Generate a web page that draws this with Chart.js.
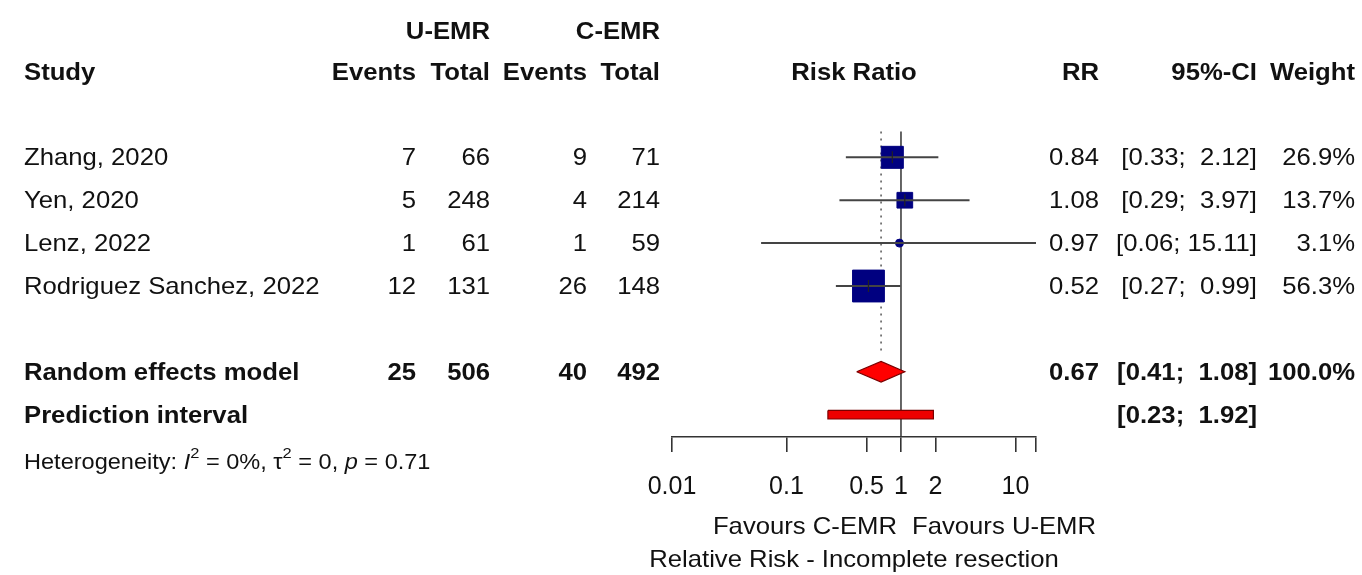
<!DOCTYPE html>
<html>
<head>
<meta charset="utf-8">
<script src="https://cdn.jsdelivr.net/npm/chart.js@4.4.1/dist/chart.umd.min.js"></script>
<style>
  html, body { margin: 0; padding: 0; background: #fff; }
  canvas { display: block; }
</style>
</head>
<body>
<canvas id="forest" width="1362" height="575"></canvas>
<script>
// --- data ---
const studies = ['Zhang, 2020', 'Yen, 2020', 'Lenz, 2022', 'Rodriguez Sanchez, 2022'];
const eventsU = [7, 5, 1, 12];
const totalU = [66, 248, 61, 131];
const eventsC = [9, 4, 1, 26];
const totalC = [71, 214, 59, 148];
const rr = [0.84, 1.08, 0.97, 0.52];
const ciLow = [0.33, 0.29, 0.06, 0.27];
const ciHigh = [2.12, 3.97, 15.11, 0.99];
const weight = [26.9, 13.7, 3.1, 56.3];

const pooledTotals = [25, 506, 40, 492];
const pooled = [0.67, 0.41, 1.08];      // RR, lower, upper
const predInterval = [0.23, 1.92];

const xTicks = [0.01, 0.1, 0.5, 1, 2, 10, 15.11];
const xTickLabels = ['0.01', '0.1', '0.5', '1', '2', '10', ''];

// rows on the y scale (1 row = one study line)
const studyRows = studies.map((s, i) => i + 1);
const pooledRow = 6, predRow = 7, hetRow = 8.08;

const FONT = "'Liberation Sans', Arial, sans-serif";
const INK = '#111';

function fmtCI(lo, hi) {
  return '[' + lo.toFixed(2) + ';' + (hi < 10 ? '  ' : ' ') + hi.toFixed(2) + ']';
}

// CI whiskers, one dataset per study
const ciSets = studies.map((s, i) => ({
  data: [{ x: ciLow[i], y: studyRows[i] }, { x: ciHigh[i], y: studyRows[i] }],
  borderColor: '#444', borderWidth: 2, pointRadius: 0, order: 1
}));

const datasets = [
  ...ciSets,
  { // study squares, area ~ weight
    data: rr.map((v, i) => ({ x: v, y: studyRows[i] })),
    showLine: false,
    pointStyle: weight.map(w => (w < 5 ? 'circle' : 'rect')),
    pointRadius: weight.map(w => (w < 5 ? 4 : 3 * Math.sqrt(w))),
    backgroundColor: '#000080', borderColor: '#000080', borderWidth: 1, order: 2
  },
  { // small tick at the point estimate
    data: rr.map((v, i) => ({ x: v, y: studyRows[i] })),
    showLine: false, pointStyle: 'line', rotation: 90,
    pointRadius: weight.map(w => (w > 10 ? 6 : 0)),
    borderColor: '#222', borderWidth: 1.2, order: 0
  },
  { // line of no effect
    data: [{ x: 1, y: 0.4 }, { x: 1, y: 7.6 }],
    borderColor: '#333', borderWidth: 1.5, pointRadius: 0, order: 3
  },
  { // pooled estimate, dotted
    data: [{ x: pooled[0], y: 0.4 }, { x: pooled[0], y: 5.55 }],
    borderColor: '#555', borderWidth: 1.5, borderDash: [2, 5], pointRadius: 0, order: 3
  },
  { // diamond
    data: [
      { x: pooled[1], y: pooledRow }, { x: pooled[0], y: pooledRow - 0.24 },
      { x: pooled[2], y: pooledRow }, { x: pooled[0], y: pooledRow + 0.24 },
      { x: pooled[1], y: pooledRow }
    ],
    borderColor: '#7a0000', borderWidth: 1.2, backgroundColor: '#ff0000',
    fill: 'shape', pointRadius: 0, tension: 0, order: 0
  },
  { // prediction interval bar
    data: [
      { x: predInterval[0], y: predRow - 0.1 }, { x: predInterval[1], y: predRow - 0.1 },
      { x: predInterval[1], y: predRow + 0.1 }, { x: predInterval[0], y: predRow + 0.1 },
      { x: predInterval[0], y: predRow - 0.1 }
    ],
    borderColor: '#7a0000', borderWidth: 1.2, backgroundColor: '#ee0000',
    fill: 'shape', pointRadius: 0, tension: 0, order: 0
  }
];

// text drawn a touch below the row centre so the glyphs sit on the marks
const TEXT_DY = 1.5;

function txt(ctx, s, x, y, align, bold, size) {
  ctx.save();
  ctx.font = (bold ? 'bold ' : '') + (size || 24) + 'px ' + FONT;
  ctx.fillStyle = INK;
  ctx.textAlign = align;
  ctx.textBaseline = 'middle';
  ctx.translate(x, y + TEXT_DY);
  ctx.scale(1.07, 1);
  ctx.fillText(s, 0, 0);
  ctx.restore();
}

function richText(ctx, parts, x, y, size) {
  ctx.save();
  ctx.fillStyle = INK;
  ctx.textBaseline = 'middle';
  ctx.translate(x, y + TEXT_DY);
  ctx.scale(1.07, 1);
  let cx = 0;
  parts.forEach(p => {
    const fs = p.sup ? size * 0.7 : size;
    ctx.font = (p.italic ? 'italic ' : '') + fs + 'px ' + FONT;
    ctx.fillText(p.t, cx, p.sup ? -size * 0.4 : 0);
    cx += ctx.measureText(p.t).width;
  });
  ctx.restore();
}

const tablePlugin = {
  id: 'forestTable',
  afterDraw(chart) {
    const ctx = chart.ctx;
    const ys = chart.scales.y;
    const xs = chart.scales.x;
    const mid = (chart.chartArea.left + chart.chartArea.right) / 2;
    const col = { study: 24, evU: 416, totU: 490, evC: 587, totC: 660, rr: 1099, ci: 1257, w: 1355 };

    // headers
    const h1 = ys.getPixelForValue(-1.95), h2 = ys.getPixelForValue(-1);
    txt(ctx, 'U-EMR', col.totU, h1, 'right', true);
    txt(ctx, 'C-EMR', col.totC, h1, 'right', true);
    txt(ctx, 'Study', col.study, h2, 'left', true);
    txt(ctx, 'Events', col.evU, h2, 'right', true);
    txt(ctx, 'Total', col.totU, h2, 'right', true);
    txt(ctx, 'Events', col.evC, h2, 'right', true);
    txt(ctx, 'Total', col.totC, h2, 'right', true);
    txt(ctx, 'Risk Ratio', mid, h2, 'center', true);
    txt(ctx, 'RR', col.rr, h2, 'right', true);
    txt(ctx, '95%-CI', col.ci, h2, 'right', true);
    txt(ctx, 'Weight', col.w, h2, 'right', true);

    // study rows
    studies.forEach((s, i) => {
      const y = ys.getPixelForValue(studyRows[i]);
      txt(ctx, s, col.study, y, 'left', false);
      txt(ctx, String(eventsU[i]), col.evU, y, 'right', false);
      txt(ctx, String(totalU[i]), col.totU, y, 'right', false);
      txt(ctx, String(eventsC[i]), col.evC, y, 'right', false);
      txt(ctx, String(totalC[i]), col.totC, y, 'right', false);
      txt(ctx, rr[i].toFixed(2), col.rr, y, 'right', false);
      txt(ctx, fmtCI(ciLow[i], ciHigh[i]), col.ci, y, 'right', false);
      txt(ctx, weight[i].toFixed(1) + '%', col.w, y, 'right', false);
    });

    // pooled row
    const yp = ys.getPixelForValue(pooledRow);
    txt(ctx, 'Random effects model', col.study, yp, 'left', true);
    txt(ctx, String(pooledTotals[0]), col.evU, yp, 'right', true);
    txt(ctx, String(pooledTotals[1]), col.totU, yp, 'right', true);
    txt(ctx, String(pooledTotals[2]), col.evC, yp, 'right', true);
    txt(ctx, String(pooledTotals[3]), col.totC, yp, 'right', true);
    txt(ctx, pooled[0].toFixed(2), col.rr, yp, 'right', true);
    txt(ctx, fmtCI(pooled[1], pooled[2]), col.ci, yp, 'right', true);
    txt(ctx, '100.0%', col.w, yp, 'right', true);

    const yq = ys.getPixelForValue(predRow);
    txt(ctx, 'Prediction interval', col.study, yq, 'left', true);
    txt(ctx, fmtCI(predInterval[0], predInterval[1]), col.ci, yq, 'right', true);

    richText(ctx, [
      { t: 'Heterogeneity: ' }, { t: 'I', italic: true }, { t: '2', sup: true },
      { t: ' = 0%, \u03C4' }, { t: '2', sup: true }, { t: ' = 0, ' },
      { t: 'p', italic: true }, { t: ' = 0.71' }
    ], col.study, ys.getPixelForValue(hetRow), 22);

    // favours labels and axis title
    const x1 = xs.getPixelForValue(1);
    const yf = ys.getPixelForValue(9.6);
    txt(ctx, 'Favours C-EMR', x1 - 4, yf, 'right', false);
    txt(ctx, 'Favours U-EMR', x1 + 11, yf, 'left', false);
    txt(ctx, 'Relative Risk - Incomplete resection', mid, ys.getPixelForValue(10.35), 'center', false);
  }
};

new Chart(document.getElementById('forest'), {
  type: 'line',
  data: { datasets },
  options: {
    responsive: false,
    animation: false,
    layout: { padding: { left: 672, right: 326, top: 7, bottom: 78 } },
    plugins: { legend: { display: false }, tooltip: { enabled: false } },
    elements: { line: { tension: 0 } },
    scales: {
      x: {
        type: 'logarithmic',
        min: 0.01,
        max: 15.11,
        afterBuildTicks: axis => { axis.ticks = xTicks.map(v => ({ value: v })); },
        afterFit: axis => { axis.height = 60; },
        ticks: {
          autoSkip: false, maxRotation: 0, padding: 20,
          color: INK, font: { family: FONT, size: 25 },
          callback: v => { const i = xTicks.indexOf(v); return i >= 0 ? xTickLabels[i] : ''; }
        },
        grid: { drawOnChartArea: false, drawTicks: true, tickLength: 15, color: '#333', lineWidth: 1.6 },
        border: { display: true, color: '#333', width: 1.6 }
      },
      y: {
        type: 'linear',
        display: false,
        reverse: true,
        min: -2.12,
        max: 7.52
      }
    }
  },
  plugins: [tablePlugin]
});
</script>
</body>
</html>
